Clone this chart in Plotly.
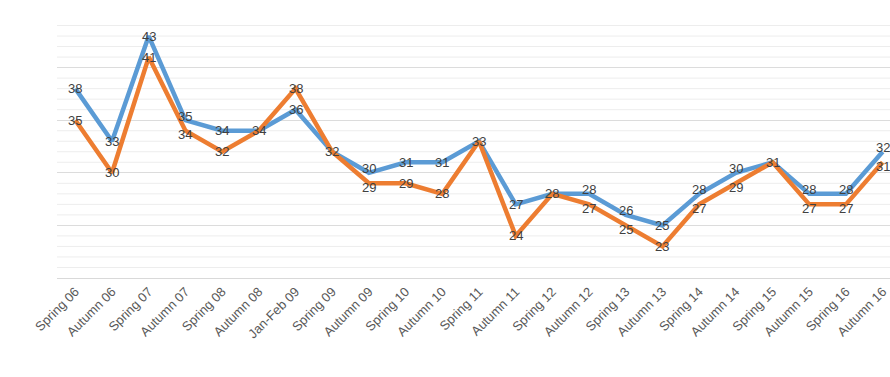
import plotly.graph_objects as go

categories = ["Spring 06", "Autumn 06", "Spring 07", "Autumn 07", "Spring 08", "Autumn 08",
              "Jan-Feb 09", "Spring 09", "Autumn 09", "Spring 10", "Autumn 10", "Spring 11",
              "Autumn 11", "Spring 12", "Autumn 12", "Spring 13", "Autumn 13", "Spring 14",
              "Autumn 14", "Spring 15", "Autumn 15", "Spring 16", "Autumn 16"]
series_blue = [38, 33, 43, 35, 34, 34, 36, 32, 30, 31, 31, 33, 27, 28, 28, 26, 25, 28, 30, 31, 28, 28, 32]
series_orange = [35, 30, 41, 34, 32, 34, 38, 32, 29, 29, 28, 33, 24, 28, 27, 25, 23, 27, 29, 31, 27, 27, 31]

BLUE = "#5B9BD5"
ORANGE = "#ED7D31"
LABEL = "#404040"
FONT = "Liberation Sans, Arial"

xs = list(range(len(categories)))
fig = go.Figure()
for vals, col in [(series_blue, BLUE), (series_orange, ORANGE)]:
    fig.add_trace(go.Scatter(
        x=xs, y=vals, mode="lines",
        line=dict(color=col, width=4.5), cliponaxis=False, showlegend=False,
    ))

# data labels centred on the points, nudged apart where the two series are close
annotations = []
for i, (b, o) in enumerate(zip(series_blue, series_orange)):
    close = abs(b - o) <= 1
    same = b == o
    annotations.append(dict(x=i, y=b, xref="x", yref="y", text=str(b), showarrow=False,
                            font=dict(family=FONT, size=13, color=LABEL),
                            yshift=(4 if (close and not same and b > o) else (-4 if close and not same else 0))))
    if not same:
        annotations.append(dict(x=i, y=o, xref="x", yref="y", text=str(o), showarrow=False,
                                font=dict(family=FONT, size=13, color=LABEL),
                                yshift=(-4 if (close and o < b) else (4 if close else 0))))

# minor gridlines every 1 unit (major every 5 drawn by the axis grid)
shapes = []
for v in range(21, 46):
    if v % 5 == 0:
        continue
    shapes.append(dict(type="line", xref="paper", yref="y", x0=0, x1=1, y0=v, y1=v,
                       line=dict(color="#EDEDED", width=1), layer="below"))

fig.update_layout(
    width=890, height=377,
    margin=dict(l=57, r=0, t=15, b=99),
    paper_bgcolor="white", plot_bgcolor="white",
    shapes=shapes, annotations=annotations,
    xaxis=dict(
        range=[-0.5, 22.2], tickmode="array",
        tickvals=xs, ticktext=categories,
        tickangle=-45, showgrid=False, zeroline=False,
        showline=True, linecolor="#D9D9D9", linewidth=1,
        ticks="", tickfont=dict(family=FONT, size=13, color="#595959"),
    ),
    yaxis=dict(
        range=[20, 45], dtick=5, showgrid=True, gridcolor="#DCDCDC", gridwidth=1,
        showticklabels=False, zeroline=False, showline=False,
    ),
)

fig.write_html("out.html")
